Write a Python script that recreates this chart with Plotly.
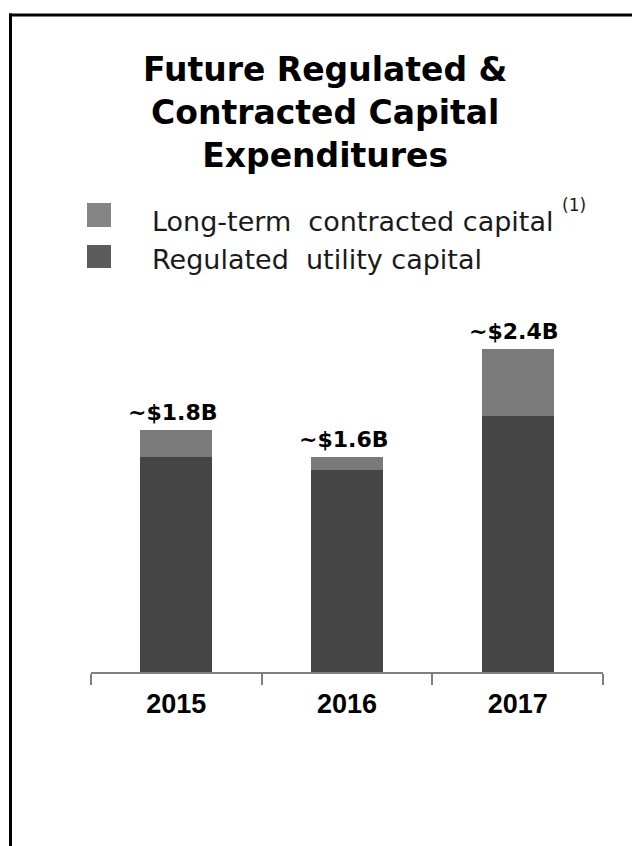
import plotly.graph_objects as go

# ---- data ----
years = ["2015", "2016", "2017"]
regulated = [1.6, 1.5, 1.9]          # Regulated utility capital ($B)
contracted = [0.2, 0.1, 0.5]         # Long-term contracted capital ($B)
total_labels = ["~$1.8B", "~$1.6B", "~$2.4B"]
legend_names = ["Long-term\u00a0 contracted capital", "Regulated\u00a0 utility capital"]
legend_note = "(1)"
title_lines = ["Future Regulated &", "Contracted Capital", "Expenditures"]

# ---- geometry helpers ----
W, H = 632, 846
L, R, T, B = 91, 29, 300, 174
PW, PH = W - L - R, H - T - B
YMAX = PH / 134.6


def px(x):
    return (x - L) / PW


def py(y):
    return (H - B - y) / PH


COL_CON = "#7a7a7a"
COL_REG = "#454545"
LEG_CON = "#858585"
LEG_REG = "#5c5c5c"

fig = go.Figure()
fig.add_bar(x=years, y=regulated, name=legend_names[1], marker=dict(color=COL_REG, line=dict(width=0)),
            showlegend=False, hoverinfo="skip")
fig.add_bar(x=years, y=contracted, name=legend_names[0], marker=dict(color=COL_CON, line=dict(width=0)),
            showlegend=False, hoverinfo="skip")

totals = [r + c for r, c in zip(regulated, contracted)]
for i, (tot, lab) in enumerate(zip(totals, total_labels)):
    fig.add_annotation(x=i, y=tot, xref="x", yref="y", text=f"<b>{lab}</b>", showarrow=False,
                       yanchor="bottom", xanchor="center", yshift=3, xshift=-4,
                       font=dict(family="DejaVu Sans", size=22, color="black"))

# title
fig.add_annotation(x=px(325), y=py(48), xref="paper", yref="paper",
                   text="<br>".join(f"<b>{t}</b>" for t in title_lines),
                   showarrow=False, xanchor="center", yanchor="top", align="center",
                   font=dict(family="DejaVu Sans", size=33, color="black"))

# custom legend
leg_rows = [(legend_names[0], LEG_CON, 203, 227, 221), (legend_names[1], LEG_REG, 245, 268, 259)]
for name, col, y0, y1, yc in leg_rows:
    fig.add_shape(type="rect", xref="paper", yref="paper", x0=px(87), x1=px(111), y0=py(y1), y1=py(y0),
                  fillcolor=col, line=dict(width=0))
    fig.add_annotation(x=px(150), y=py(yc), xref="paper", yref="paper", text=name, showarrow=False,
                       xanchor="left", yanchor="middle",
                       font=dict(family="DejaVu Sans", size=27, color="#1a1a1a"))
fig.add_annotation(x=px(560), y=py(205), xref="paper", yref="paper", text=legend_note, showarrow=False,
                   xanchor="left", yanchor="middle",
                   font=dict(family="DejaVu Sans", size=17, color="#1a1a1a"))

# frame lines (top and left)
fig.add_shape(type="line", xref="paper", yref="paper", x0=px(9), x1=px(640), y0=py(15), y1=py(15),
              line=dict(color="black", width=3))
fig.add_shape(type="line", xref="paper", yref="paper", x0=px(10.5), x1=px(10.5), y0=py(13.5), y1=py(860),
              line=dict(color="black", width=3))

fig.update_layout(
    width=W, height=H,
    margin=dict(l=L, r=R, t=T, b=B, pad=0),
    barmode="stack", bargap=0.58,
    paper_bgcolor="white", plot_bgcolor="white",
    showlegend=False,
    xaxis=dict(type="category", range=[-0.5, 2.5], showline=True, linecolor="#808080", linewidth=1.5,
               ticks="outside", tickson="boundaries", ticklen=11, tickcolor="#808080", tickwidth=1.5,
               showgrid=False, zeroline=False, fixedrange=True, ticklabelstandoff=7,
               tickfont=dict(family="Liberation Sans", size=27, color="black", weight="bold")),
    yaxis=dict(visible=False, range=[0, YMAX], showgrid=False, zeroline=False, fixedrange=True),
)

fig.write_html("out.html", config={"displayModeBar": False},
               post_script="document.body.style.margin='0';document.body.style.overflow='hidden';")
